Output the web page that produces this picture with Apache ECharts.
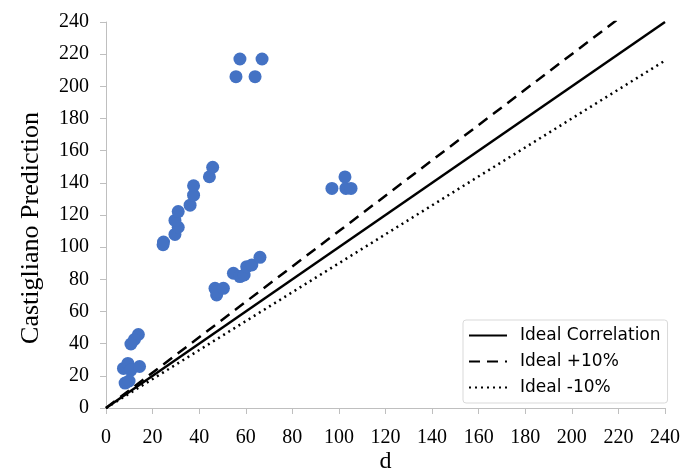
<!DOCTYPE html>
<html>
<head>
<meta charset="utf-8">
<script src="https://cdn.jsdelivr.net/npm/echarts@6/dist/echarts.min.js"></script>
<style>html,body{margin:0;padding:0;background:#fff}#c{width:683px;height:470px}</style>
</head>
<body>
<div id="c"></div>
<script>
// Scatter data (d, Castigliano Prediction)
const measuredD = [13.9,12.2,10.7,7.5,9.4,10.7,14.4,8.2,9.9,
  24.7,24.5,29.6,31.0,29.6,31.0,36.1,37.6,37.6,44.4,45.8,
  46.8,47.5,47.6,50.4,54.7,57.5,59.3,60.4,62.6,66.1,
  97.0,102.6,103.0,105.2,
  57.5,67.0,55.8,64.0];
const predicted = [45.7,42.6,39.8,24.6,27.7,23.6,25.8,15.5,16.8,
  103.2,101.5,107.9,112.4,116.6,122.1,126.1,132.3,138.2,143.8,149.7,
  74.4,70.3,72.3,74.4,83.8,81.7,82.7,87.9,88.9,93.7,
  136.5,143.7,136.5,136.5,
  217,217,206,206];
// Reference lines
const lineX = [0,240];
const idealY = [0,240];
const plus10Y = [0,264];
const minus10Y = [0,216];
const tickVals = [0,20,40,60,80,100,120,140,160,180,200,220,240];

const chart = echarts.init(document.getElementById('c'));
const serif = '"Liberation Serif", "DejaVu Serif", serif';
const axisCommon = {
  type: 'value', min: 0, max: 240, interval: 20,
  axisLine: {show: true, lineStyle: {color: '#bfbfbf', width: 1}},
  axisTick: {show: true, inside: false, length: 6, lineStyle: {color: '#bfbfbf'}},
  splitLine: {show: false},
  axisLabel: {color: '#000', fontFamily: serif, fontSize: 20}
};
chart.setOption({
  animation: false,
  grid: {left: 106, right: 18, top: 22, bottom: 62, containLabel: false, outerBoundsMode: 'none'},
  xAxis: Object.assign({}, axisCommon, {
    name: 'd', nameLocation: 'middle', nameGap: 42, nameMoveOverlap: false,
    nameTextStyle: {color: '#000', fontFamily: serif, fontSize: 24},
    axisLabel: Object.assign({}, axisCommon.axisLabel, {margin: 20})
  }),
  yAxis: Object.assign({}, axisCommon, {
    name: 'Castigliano Prediction', nameLocation: 'middle', nameGap: 62, nameMoveOverlap: false,
    nameTextStyle: {color: '#000', fontFamily: serif, fontSize: 26, padding: [0, 26, 0, 0]},
    axisLabel: Object.assign({}, axisCommon.axisLabel, {margin: 17})
  }),
  legend: {
    orient: 'vertical', left: 463, top: 320,
    padding: [7, 7, 7, 5], itemGap: 9,
    itemWidth: 38, itemHeight: 16,
    itemStyle: {opacity: 0},
    backgroundColor: '#fff', borderColor: '#d9d9d9', borderWidth: 1, borderRadius: 3,
    textStyle: {fontFamily: '"DejaVu Sans", sans-serif', fontSize: 17, color: '#000', padding: [0, 0, 0, 8]},
    data: ['Ideal Correlation', 'Ideal +10%', 'Ideal -10%']
  },
  series: [
    {type: 'scatter', name: 'Data', symbol: 'circle', symbolSize: 13,
     itemStyle: {color: '#4472C4', opacity: 1},
     data: measuredD.map((d, i) => [d, predicted[i]])},
    {type: 'line', name: 'Ideal Correlation', symbol: 'none', clip: true,
     lineStyle: {color: '#000', width: 2.5, type: 'solid'},
     itemStyle: {color: '#000'},
     data: lineX.map((x, i) => [x, idealY[i]])},
    {type: 'line', name: 'Ideal +10%', symbol: 'none', clip: true,
     lineStyle: {color: '#000', width: 2.5, type: [11, 7]},
     itemStyle: {color: '#000'},
     data: lineX.map((x, i) => [x, plus10Y[i]])},
    {type: 'line', name: 'Ideal -10%', symbol: 'none', clip: true,
     lineStyle: {color: '#000', width: 2.5, type: [2, 4]},
     itemStyle: {color: '#000'},
     data: lineX.map((x, i) => [x, minus10Y[i]])}
  ]
});
</script>
</body>
</html>
